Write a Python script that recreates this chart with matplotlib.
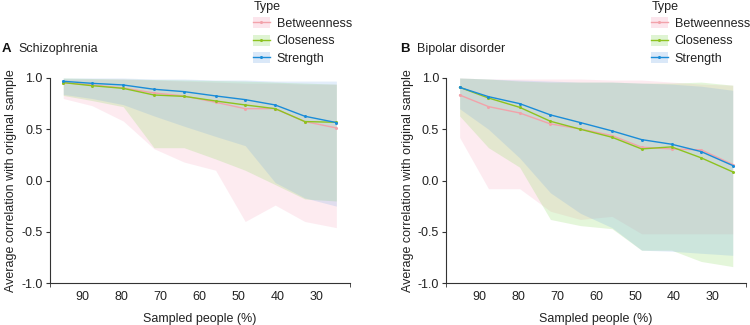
import matplotlib
matplotlib.use("Agg")
import matplotlib.pyplot as plt
from matplotlib.patches import Patch
from matplotlib.lines import Line2D

plt.rcParams['font.family'] = ['Liberation Sans', 'DejaVu Sans']
plt.rcParams['font.size'] = 9

# ---------------- data ----------------
sampled = [95.0, 87.6, 79.6, 71.7, 64.0, 55.9, 48.3, 40.6, 33.0, 24.9]
types = ["Betweenness", "Closeness", "Strength"]
xticks = [90, 80, 70, 60, 50, 40, 30]
yticks = [-1.0, -0.5, 0.0, 0.5, 1.0]

# Panel A: Schizophrenia
scz_betw_mean = [0.955, 0.932, 0.903, 0.854, 0.825, 0.763, 0.701, 0.701, 0.575, 0.513]
scz_betw_low = [0.80, 0.73, 0.58, 0.31, 0.18, 0.10, -0.40, -0.24, -0.40, -0.46]
scz_betw_high = [0.99, 0.99, 0.99, 0.98, 0.97, 0.96, 0.95, 0.95, 0.94, 0.94]
scz_clos_mean = [0.955, 0.925, 0.899, 0.834, 0.821, 0.776, 0.737, 0.701, 0.575, 0.568]
scz_clos_low = [0.83, 0.78, 0.72, 0.32, 0.32, 0.21, 0.10, -0.04, -0.18, -0.20]
scz_clos_high = [1.00, 0.995, 0.99, 0.985, 0.98, 0.975, 0.97, 0.96, 0.95, 0.94]
scz_str_mean = [0.968, 0.948, 0.932, 0.890, 0.867, 0.825, 0.789, 0.737, 0.627, 0.565]
scz_str_low = [0.84, 0.80, 0.74, 0.63, 0.53, 0.43, 0.34, -0.02, -0.17, -0.25]
scz_str_high = [1.00, 1.00, 1.00, 0.99, 0.99, 0.98, 0.98, 0.97, 0.97, 0.97]

# Panel B: Bipolar disorder
bp_betw_mean = [0.834, 0.721, 0.659, 0.552, 0.503, 0.438, 0.325, 0.308, 0.299, 0.156]
bp_betw_low = [0.42, -0.08, -0.08, -0.30, -0.38, -0.35, -0.52, -0.52, -0.52, -0.52]
bp_betw_high = [1.00, 0.99, 0.99, 0.99, 0.99, 0.98, 0.98, 0.96, 0.94, 0.93]
bp_clos_mean = [0.909, 0.805, 0.714, 0.578, 0.500, 0.422, 0.308, 0.328, 0.221, 0.084]
bp_clos_low = [0.63, 0.32, 0.13, -0.38, -0.44, -0.47, -0.68, -0.68, -0.79, -0.84]
bp_clos_high = [1.00, 0.99, 0.97, 0.96, 0.96, 0.96, 0.95, 0.95, 0.96, 0.93]
bp_str_mean = [0.909, 0.818, 0.750, 0.640, 0.565, 0.484, 0.399, 0.354, 0.282, 0.146]
bp_str_low = [0.70, 0.50, 0.22, -0.12, -0.32, -0.46, -0.68, -0.69, -0.71, -0.73]
bp_str_high = [1.00, 0.99, 0.98, 0.97, 0.96, 0.96, 0.95, 0.94, 0.92, 0.88]

line_colors = {"Betweenness": "#F2A2AA", "Closeness": "#8DC21F", "Strength": "#1A8CD8"}
fill_colors = {"Betweenness": "#F48CAA", "Closeness": "#96DC6E", "Strength": "#6EA5E6"}
fill_alpha = {"Betweenness": 0.17, "Closeness": 0.25, "Strength": 0.2}

panels = [
    ("A", "Schizophrenia", {
        "Betweenness": (scz_betw_mean, scz_betw_low, scz_betw_high),
        "Closeness": (scz_clos_mean, scz_clos_low, scz_clos_high),
        "Strength": (scz_str_mean, scz_str_low, scz_str_high)}),
    ("B", "Bipolar disorder", {
        "Betweenness": (bp_betw_mean, bp_betw_low, bp_betw_high),
        "Closeness": (bp_clos_mean, bp_clos_low, bp_clos_high),
        "Strength": (bp_str_mean, bp_str_low, bp_str_high)}),
]

W, H = 750, 325
fig = plt.figure(figsize=(7.5, 3.25), dpi=100)
ax_lefts = [49.6, 446.0]
title_x = [(2, 18), (400, 417)]
legend_x = [253, 651]
text_col = "#222222"
axis_col = "#333333"

for i, (letter, name, series) in enumerate(panels):
    ax = fig.add_axes([ax_lefts[i] / W, (H - 283) / H, 300 / W, 205 / H])
    for t in types:
        m, lo, hi = series[t]
        ax.fill_between(sampled, lo, hi, color=fill_colors[t], alpha=fill_alpha[t],
                        linewidth=0)
    for t in types:
        m, lo, hi = series[t]
        ax.plot(sampled, m, color=line_colors[t], lw=1.0, marker='o', ms=2.2,
                mew=0)
    ax.set_xlim(98.5, 21.5)
    ax.set_ylim(-1.0, 1.0)
    ax.set_xticks(xticks)
    ax.set_yticks(yticks)
    ax.set_yticklabels([f"{v:.1f}" for v in yticks])
    ax.set_xticks([98.5, 21.5], minor=True)
    ax.tick_params(axis='x', which='major', length=0, pad=6, colors=text_col,
                   labelsize=9)
    ax.tick_params(axis='x', which='minor', length=3, color=axis_col)
    ax.tick_params(axis='y', length=3, pad=2, colors=text_col, color=axis_col,
                   labelsize=9)
    for s in ["top", "right"]:
        ax.spines[s].set_visible(False)
    for s in ["left", "bottom"]:
        ax.spines[s].set_color(axis_col)
        ax.spines[s].set_linewidth(0.8)
    ax.set_xlabel("Sampled people (%)", color=text_col, fontsize=9, labelpad=7)
    ax.set_ylabel("Average correlation with original sample", color=text_col,
                  fontsize=9, labelpad=3)
    ax.patch.set_visible(False)

    fig.text(title_x[i][0] / W, 1 - 49 / H, letter, fontsize=9.5,
             fontweight='bold', va='center', ha='left', color="#111111")
    fig.text(title_x[i][1] / W, 1 - 49 / H, name, fontsize=9, va='center',
             ha='left', color=text_col)

    fig.text((legend_x[i] + 1) / W, 1 - 7 / H, "Type", fontsize=9,
             va='center', ha='left', color=text_col)
    handles = [(Patch(facecolor=fill_colors[t], alpha=fill_alpha[t] + 0.05,
                      edgecolor='none'),
                Line2D([], [], color=line_colors[t], lw=1.0, marker='o', ms=2.2,
                       mew=0)) for t in types]
    leg = fig.legend(handles, types, loc='upper left',
                     bbox_to_anchor=(legend_x[i] / W, 1 - 17 / H),
                     bbox_transform=fig.transFigure, frameon=False,
                     borderpad=0, borderaxespad=0, handlelength=1.35,
                     handleheight=1.0, handletextpad=0.55, labelspacing=0.38,
                     fontsize=9)
    for txt in leg.get_texts():
        txt.set_color(text_col)

fig.savefig("out.png", dpi=100)
